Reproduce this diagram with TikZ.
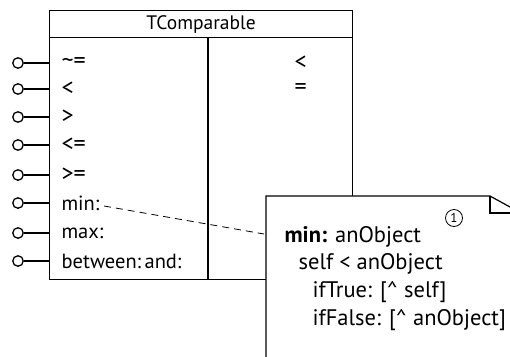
\documentclass[tikz,border=0pt]{standalone}
\usepackage{fontspec}
\setmainfont{PT Sans}
\newcommand{\opsym}[1]{{\fontsize{24}{24}\selectfont #1}}
\begin{document}
\begin{tikzpicture}[x=1pt,y=-1pt,line width=1.2pt,
  pin/.style={circle,draw,line width=1.3pt,minimum size=10.5pt,inner sep=0pt},
  lbl/.style={anchor=west,inner sep=0pt,font=\fontsize{20.5}{24}\selectfont},
  txt/.style={anchor=west,inner sep=0pt,font=\fontsize{22.5}{26}\selectfont}]
\useasboundingbox (0,0) rectangle (510,356);
% class box
\node[draw,minimum width=303pt,minimum height=27pt,anchor=north west,inner sep=0pt,font=\fontsize{19.5}{22}\selectfont] (head) at (49,10) {TComparable};
\node[draw,minimum width=303pt,minimum height=242pt,anchor=north west,inner sep=0pt] (body) at (49,37) {};
\coordinate (dtop) at (208,37);
\coordinate (dbot) at (208,279);
\draw (dtop) -- (dbot);
% rows
\foreach \i/\y/\t in {1/63/{\opsym{\textasciitilde=}},2/89/{\opsym{<}},3/117/{\opsym{>}},4/145/{\opsym{<=}},5/175/{\opsym{>=}},6/203/{min:},7/233/{max:},8/261/{between:\,and:}}{
  \node[pin] (p\i) at (18,\y) {};
  \coordinate (b\i) at (49,\y);
  \draw (p\i) -- (b\i);
  \node[lbl] (m\i) at (61,\y) {\t};
}
\node[lbl] (r1) at (294,63) {\opsym{<}};
\node[lbl] (r2) at (294,89) {\opsym{=}};
% dashed link
\coordinate (nl) at (264,234);
\draw[dashed,line width=0.8pt,dash pattern=on 7pt off 5pt] ([xshift=4pt,yshift=-3pt]m6.east) -- (nl);
% note
\draw[fill=white] (266,380) -- (266,196) -- (490,196) -- (530,218) -- (530,380) -- cycle;
\draw (490,196) -- (490,213) -- (530,213);
\node[circle,draw,line width=0.8pt,minimum size=17pt,inner sep=0pt,font=\fontsize{13}{14}\selectfont] (one) at (454,218) {1};
\node[txt] (n1) at (284,237) {\textbf{min:} anObject};
\node[txt] (n2) at (298,264) {self < anObject};
\node[txt] (n3) at (312,292) {ifTrue: [\textasciicircum\ self]};
\node[txt] (n4) at (312,320) {ifFalse: [\textasciicircum\ anObject]};
\end{tikzpicture}
\end{document}
